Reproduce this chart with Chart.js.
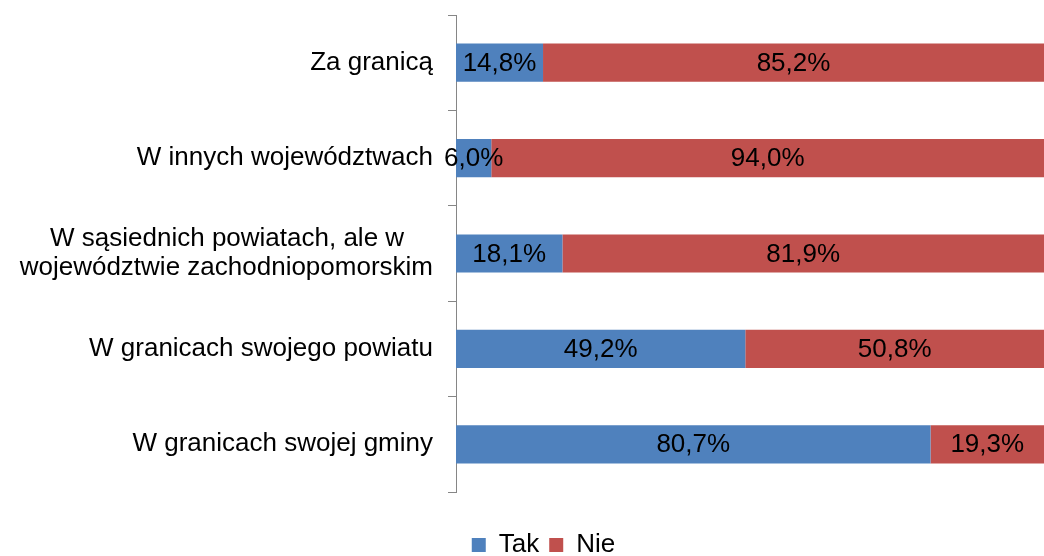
<!DOCTYPE html>
<html>
<head>
<meta charset="utf-8">
<script src="https://cdn.jsdelivr.net/npm/chart.js@4/dist/chart.umd.min.js"></script>
<style>
  html, body { margin: 0; padding: 0; background: #ffffff; }
  #wrap { width: 1044px; height: 556px; position: relative; }
</style>
</head>
<body>
<div id="wrap"><canvas id="c"></canvas></div>
<script>
const categories = [
  ["Za granicą"],
  ["W innych województwach"],
  ["W sąsiednich powiatach, ale w", "województwie zachodniopomorskim"],
  ["W granicach swojego powiatu"],
  ["W granicach swojej gminy"]
];
const seriesNames = ["Tak", "Nie"];
const takValues = [14.8, 6.0, 18.1, 49.2, 80.7];
const nieValues = [85.2, 94.0, 81.9, 50.8, 19.3];

const FONT_FAMILY = "'Liberation Sans', Arial, sans-serif";
const FONT_SIZE = 26;
Chart.defaults.font.family = FONT_FAMILY;
Chart.defaults.color = '#000000';

const measureCtx = document.createElement('canvas').getContext('2d');
measureCtx.font = FONT_SIZE + 'px ' + FONT_FAMILY;
function centerLines(lines) {
  if (lines.length < 2) return lines[0];
  const w = lines.map(l => measureCtx.measureText(l).width);
  const max = Math.max(...w);
  const sp = measureCtx.measureText(' ').width;
  return lines.map((l, i) => l + ' '.repeat(Math.round((max - w[i]) / 2 / sp)));
}

function fmt(v) { return v.toFixed(1).replace('.', ',') + '%'; }

const dataLabels = {
  id: 'dataLabels',
  afterDatasetsDraw(chart) {
    const ctx = chart.ctx;
    ctx.save();
    ctx.font = FONT_SIZE + 'px ' + FONT_FAMILY;
    ctx.fillStyle = '#000000';
    ctx.textAlign = 'center';
    ctx.textBaseline = 'middle';
    chart.data.datasets.forEach((ds, di) => {
      const meta = chart.getDatasetMeta(di);
      meta.data.forEach((el, i) => {
        const p = el.getCenterPoint();
        ctx.fillText(fmt(ds.data[i]), p.x, p.y + 1);
      });
    });
    ctx.restore();
  }
};

const legendShift = {
  id: 'legendShift',
  afterLayout(chart) {
    if (chart.legend) { chart.legend.left += 43; }
  }
};

new Chart(document.getElementById('c'), {
  type: 'bar',
  data: {
    labels: categories.map(centerLines),
    datasets: [
      { label: seriesNames[0], data: takValues, backgroundColor: '#4F81BD', borderWidth: 0,
        barPercentage: 0.4, categoryPercentage: 1.0 },
      { label: seriesNames[1], data: nieValues, backgroundColor: '#C0504D', borderWidth: 0,
        barPercentage: 0.4, categoryPercentage: 1.0 }
    ]
  },
  options: {
    indexAxis: 'y',
    responsive: true,
    maintainAspectRatio: false,
    animation: false,
    layout: { padding: { top: 15, right: 0, bottom: -12, left: 0 } },
    scales: {
      x: {
        stacked: true,
        min: 0,
        max: 100,
        display: true,
        ticks: { display: false },
        grid: { display: false },
        border: { display: false },
        afterFit(scale) { scale.height = 30; }
      },
      y: {
        stacked: true,
        grid: { drawOnChartArea: false, color: '#868686', tickLength: 8, offset: true },
        border: { color: '#868686', width: 1 },
        ticks: {
          padding: 15,
          color: '#000000',
          font: { size: FONT_SIZE, lineHeight: 1.1 },
          autoSkip: false
        },
        afterFit(scale) { scale.width = 456; scale.paddingTop = 0; scale.paddingBottom = 0; }
      }
    },
    plugins: {
      legend: {
        position: 'bottom',
        align: 'center',
        labels: {
          boxWidth: 14,
          boxHeight: 14,
          padding: 10,
          color: '#000000',
          font: { size: FONT_SIZE }
        }
      },
      tooltip: { enabled: false }
    }
  },
  plugins: [dataLabels, legendShift]
});
</script>
</body>
</html>
